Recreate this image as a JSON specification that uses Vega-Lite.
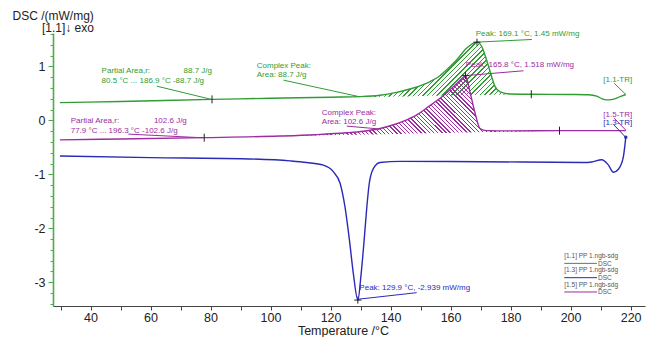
{
  "$schema": "https://vega.github.io/schema/vega-lite/v6.json",
  "width": 592,
  "height": 273,
  "autosize": {"type": "none"},
  "padding": {"left": 53, "top": 33, "right": 5, "bottom": 31},
  "background": "white",
  "config": {"view": {"stroke": null}, "font": "Liberation Sans"},
  "datasets": {
    "curves": [
      {"s": "g", "T": 29.8, "v": 0.33}, {"s": "g", "T": 50, "v": 0.35}, {"s": "g", "T": 80.5, "v": 0.39}, {"s": "g", "T": 100, "v": 0.41}, {"s": "g", "T": 120, "v": 0.43}, {"s": "g", "T": 130, "v": 0.44}, {"s": "g", "T": 136.5, "v": 0.465}, {"s": "g", "T": 142, "v": 0.52}, {"s": "g", "T": 147.6, "v": 0.6}, {"s": "g", "T": 153.2, "v": 0.72}, {"s": "g", "T": 156, "v": 0.81}, {"s": "g", "T": 158.7, "v": 0.94}, {"s": "g", "T": 162, "v": 1.12}, {"s": "g", "T": 165.4, "v": 1.34}, {"s": "g", "T": 167.2, "v": 1.42}, {"s": "g", "T": 168.8, "v": 1.45}, {"s": "g", "T": 170.4, "v": 1.37}, {"s": "g", "T": 172, "v": 1.12}, {"s": "g", "T": 173.7, "v": 0.81}, {"s": "g", "T": 174.8, "v": 0.63}, {"s": "g", "T": 176.5, "v": 0.53}, {"s": "g", "T": 179.8, "v": 0.49}, {"s": "g", "T": 186.9, "v": 0.485}, {"s": "g", "T": 200, "v": 0.48}, {"s": "g", "T": 206, "v": 0.475}, {"s": "g", "T": 208.7, "v": 0.45}, {"s": "g", "T": 210.5, "v": 0.4}, {"s": "g", "T": 212, "v": 0.38}, {"s": "g", "T": 214, "v": 0.39}, {"s": "g", "T": 216.5, "v": 0.44}, {"s": "g", "T": 218.4, "v": 0.48},
      {"s": "p", "T": 29.8, "v": -0.36}, {"s": "p", "T": 50, "v": -0.345}, {"s": "p", "T": 77.9, "v": -0.32}, {"s": "p", "T": 103, "v": -0.29}, {"s": "p", "T": 115, "v": -0.265}, {"s": "p", "T": 125.4, "v": -0.23}, {"s": "p", "T": 131, "v": -0.2}, {"s": "p", "T": 136.5, "v": -0.15}, {"s": "p", "T": 141, "v": -0.08}, {"s": "p", "T": 145.4, "v": 0.01}, {"s": "p", "T": 149, "v": 0.11}, {"s": "p", "T": 152, "v": 0.23}, {"s": "p", "T": 156.5, "v": 0.41}, {"s": "p", "T": 161, "v": 0.63}, {"s": "p", "T": 163.5, "v": 0.76}, {"s": "p", "T": 165, "v": 0.83}, {"s": "p", "T": 166.5, "v": 0.52}, {"s": "p", "T": 168.2, "v": 0.13}, {"s": "p", "T": 169.8, "v": -0.15}, {"s": "p", "T": 172, "v": -0.19}, {"s": "p", "T": 180, "v": -0.195}, {"s": "p", "T": 196.3, "v": -0.19}, {"s": "p", "T": 210, "v": -0.19}, {"s": "p", "T": 218.4, "v": -0.19},
      {"s": "b", "T": 29.8, "v": -0.66}, {"s": "b", "T": 60, "v": -0.69}, {"s": "b", "T": 90, "v": -0.71}, {"s": "b", "T": 106.5, "v": -0.75}, {"s": "b", "T": 112, "v": -0.78}, {"s": "b", "T": 117.6, "v": -0.83}, {"s": "b", "T": 120.9, "v": -0.95}, {"s": "b", "T": 123.2, "v": -1.17}, {"s": "b", "T": 124.8, "v": -1.6}, {"s": "b", "T": 126.3, "v": -2.22}, {"s": "b", "T": 127.6, "v": -2.84}, {"s": "b", "T": 129.1, "v": -3.33}, {"s": "b", "T": 130.2, "v": -2.84}, {"s": "b", "T": 131.2, "v": -2.22}, {"s": "b", "T": 132.1, "v": -1.6}, {"s": "b", "T": 132.9, "v": -1.17}, {"s": "b", "T": 134.3, "v": -0.89}, {"s": "b", "T": 136.5, "v": -0.78}, {"s": "b", "T": 143.2, "v": -0.76}, {"s": "b", "T": 170, "v": -0.765}, {"s": "b", "T": 204.3, "v": -0.78}, {"s": "b", "T": 207, "v": -0.77}, {"s": "b", "T": 210.4, "v": -0.73}, {"s": "b", "T": 212.5, "v": -0.82}, {"s": "b", "T": 214.3, "v": -0.96}, {"s": "b", "T": 216, "v": -0.9}, {"s": "b", "T": 217.6, "v": -0.67}, {"s": "b", "T": 218.4, "v": -0.31}
    ],
    "hatchG": [
      {"T": 80.5, "v": 0.39, "v2": 0.39}, {"T": 100, "v": 0.41, "v2": 0.407}, {"T": 120, "v": 0.43, "v2": 0.425}, {"T": 130, "v": 0.44, "v2": 0.434}, {"T": 136.5, "v": 0.465, "v2": 0.44}, {"T": 142, "v": 0.52, "v2": 0.445}, {"T": 147.6, "v": 0.6, "v2": 0.45}, {"T": 153.2, "v": 0.72, "v2": 0.455}, {"T": 156, "v": 0.81, "v2": 0.458}, {"T": 158.7, "v": 0.94, "v2": 0.46}, {"T": 162, "v": 1.12, "v2": 0.463}, {"T": 165.4, "v": 1.34, "v2": 0.466}, {"T": 167.2, "v": 1.42, "v2": 0.468}, {"T": 168.8, "v": 1.45, "v2": 0.469}, {"T": 170.4, "v": 1.37, "v2": 0.471}, {"T": 172, "v": 1.12, "v2": 0.472}, {"T": 173.7, "v": 0.81, "v2": 0.474}, {"T": 174.8, "v": 0.63, "v2": 0.475}, {"T": 176.5, "v": 0.53, "v2": 0.477}, {"T": 179.8, "v": 0.49, "v2": 0.48}, {"T": 186.9, "v": 0.485, "v2": 0.485}
    ],
    "hatchP": [
      {"T": 77.9, "v": -0.32, "v2": -0.32}, {"T": 103, "v": -0.29, "v2": -0.292}, {"T": 115, "v": -0.265, "v2": -0.279}, {"T": 125.4, "v": -0.23, "v2": -0.268}, {"T": 131, "v": -0.2, "v2": -0.262}, {"T": 136.5, "v": -0.15, "v2": -0.256}, {"T": 141, "v": -0.08, "v2": -0.251}, {"T": 145.4, "v": 0.01, "v2": -0.246}, {"T": 149, "v": 0.11, "v2": -0.242}, {"T": 152, "v": 0.23, "v2": -0.239}, {"T": 156.5, "v": 0.41, "v2": -0.234}, {"T": 161, "v": 0.63, "v2": -0.229}, {"T": 163.5, "v": 0.76, "v2": -0.226}, {"T": 165, "v": 0.83, "v2": -0.224}, {"T": 166.5, "v": 0.52, "v2": -0.223}, {"T": 168.2, "v": 0.13, "v2": -0.221}, {"T": 169.8, "v": -0.15, "v2": -0.219}, {"T": 172, "v": -0.19, "v2": -0.217}, {"T": 180, "v": -0.195, "v2": -0.208}, {"T": 196.3, "v": -0.19, "v2": -0.19}
    ],
    "ticks": [
      {"s": "g", "T": 80.5, "v": 0.39}, {"s": "g", "T": 186.9, "v": 0.485},
      {"s": "p", "T": 77.9, "v": -0.32}, {"s": "p", "T": 196.3, "v": -0.19}
    ],
    "peaks": [
      {"s": "g", "T": 168.8, "v": 1.45}, {"s": "p", "T": 165, "v": 0.83}, {"s": "b", "T": 129.1, "v": -3.33}
    ],
    "dots": [
      {"s": "b", "T": 218.4, "v": -0.31}
    ],
    "leaders": [
      {"s": "g", "T": 62.1, "v": 0.635, "T2": 80.3, "v2": 0.389},
      {"s": "g", "T": 104.3, "v": 0.746, "T2": 129.8, "v2": 0.437},
      {"s": "g", "T": 168.6, "v": 1.45, "T2": 187.1, "v2": 1.5},
      {"s": "g", "T": 214.5, "v": 0.69, "T2": 218.4, "v2": 0.48},
      {"s": "p", "T": 165, "v": 0.83, "T2": 184.3, "v2": 0.92},
      {"s": "p", "T": 125.4, "v": -0.106, "T2": 136.5, "v2": -0.16},
      {"s": "p", "T": 52.6, "v": -0.254, "T2": 77.4, "v2": -0.322},
      {"s": "p", "T": 214.5, "v": 0.043, "T2": 218.4, "v2": -0.18},
      {"s": "b", "T": 129.1, "v": -3.315, "T2": 148.7, "v2": -3.193},
      {"s": "b", "T": 214.5, "v": -0.087, "T2": 218.4, "v2": -0.315}
    ],
    "labelsL": [
      {"s": "g", "T": 43.7, "v": 0.913, "t": "Partial Area,r:"},
      {"s": "g", "T": 43.7, "v": 0.728, "t": "80.5 °C ... 186.9 °C  -88.7 J/g"},
      {"s": "g", "T": 95.4, "v": 1.011, "t": "Complex Peak:"},
      {"s": "g", "T": 95.4, "v": 0.833, "t": "Area:  88.7 J/g"},
      {"s": "g", "T": 168.4, "v": 1.593, "t": "Peak: 169.1 °C, 1.45 mW/mg"},
      {"s": "g", "T": 210.9, "v": 0.746, "t": "[1.1-TR]"},
      {"s": "p", "T": 165.1, "v": 1.024, "t": "Peak: 165.8 °C, 1.518 mW/mg"},
      {"s": "p", "T": 117.1, "v": 0.13, "t": "Complex Peak:"},
      {"s": "p", "T": 117.1, "v": -0.031, "t": "Area:  102.6 J/g"},
      {"s": "p", "T": 33.4, "v": -0.007, "t": "Partial Area,r:"},
      {"s": "p", "T": 33.4, "v": -0.193, "t": "77.9 °C ... 196.3 °C  -102.6 J/g"},
      {"s": "p", "T": 210.9, "v": 0.098, "t": "[1.5-TR]"},
      {"s": "b", "T": 129.6, "v": -3.111, "t": "Peak: 129.9 °C, -2.939 mW/mg"},
      {"s": "b", "T": 210.9, "v": -0.044, "t": "[1.3-TR]"}
    ],
    "labelsR": [
      {"s": "g", "T": 80.5, "v": 0.913, "t": "88.7 J/g"},
      {"s": "p", "T": 72.1, "v": -0.007, "t": "102.6 J/g"}
    ],
    "exo": [
      {"T": 23.8, "v": 1.709, "t": "[1.1]\u2193 exo"}
    ],
    "legText": [
      {"T": 197.9, "v": -2.51, "t": "[1.1]  PP 1.ngb-sdg"},
      {"T": 197.9, "v": -2.772, "t": "[1.3]  PP 1.ngb-sdg"},
      {"T": 197.9, "v": -3.044, "t": "[1.5]  PP 1.ngb-sdg"}
    ],
    "legDSC": [
      {"T": 213.7, "v": -2.667, "t": "DSC"},
      {"T": 213.7, "v": -2.92, "t": "DSC"},
      {"T": 213.7, "v": -3.185, "t": "DSC"}
    ],
    "legLines": [
      {"s": "g", "T": 197.9, "T2": 208.8, "v": -2.65},
      {"s": "b", "T": 197.9, "T2": 208.8, "v": -2.915},
      {"s": "p", "T": 197.9, "T2": 208.8, "v": -3.18}
    ]
  },
  "encoding": {
    "x": {
      "field": "T", "type": "quantitative",
      "scale": {"domain": [27.5, 224.8], "nice": false, "zero": false},
      "axis": {
        "title": "Temperature /°C", "titleX": 290,
        "values": [30, 40, 50, 60, 70, 80, 90, 100, 110, 120, 130, 140, 150, 160, 170, 180, 190, 200, 210, 220],
        "labelExpr": "datum.value % 20 == 0 ? datum.label : ''",
        "grid": false, "tickSize": 4, "labelPadding": 1,
        "labelFontSize": 12.5, "labelColor": "#222", "labelFont": "Liberation Sans",
        "titleFontSize": 12.5, "titleFontWeight": "normal", "titleColor": "#222", "titlePadding": 1, "titleFont": "Liberation Sans",
        "domainColor": "#444", "tickColor": "#444", "domainWidth": 1.2
      }
    },
    "y": {
      "field": "v", "type": "quantitative",
      "scale": {"domain": [-3.44, 1.62], "nice": false, "zero": false},
      "axis": {
        "title": "DSC /(mW/mg)",
        "titleAngle": 0, "titleAlign": "left", "titleBaseline": "alphabetic",
        "titleX": -41, "titleY": -14,
        "titleFontSize": 12, "titleFontWeight": "normal", "titleColor": "#222", "titleFont": "Liberation Sans",
        "values": [-3.4, -3.2, -3, -2.8, -2.6, -2.4, -2.2, -2, -1.8, -1.6, -1.4, -1.2, -1, -0.8, -0.6, -0.4, -0.2, 0, 0.2, 0.4, 0.6, 0.8, 1, 1.2, 1.4, 1.6],
        "labelExpr": "abs(datum.value - round(datum.value)) < 0.001 ? '' + round(datum.value) : ''",
        "tickSize": {"condition": {"test": "abs(datum.value - round(datum.value)) < 0.001", "value": 5}, "value": 3},
        "grid": false, "labelPadding": 3,
        "labelFontSize": 12.5, "labelColor": "#222", "labelFont": "Liberation Sans",
        "domainColor": "#4cad4c", "tickColor": "#4cad4c", "domainWidth": 1.6
      }
    }
  },
  "layer": [
    {
      "data": {"name": "hatchG"},
      "mark": {"type": "area", "interpolate": "monotone", "opacity": 1,
        "fill": {"gradient": "linear", "x1": 0, "y1": 0, "x2": 1.1425, "y2": 0.2046, "stops": [
          {"offset": 0, "color": "transparent"},
          {"offset": 0.45, "color": "transparent"}, {"offset": 0.45, "color": "#2f9c34"}, {"offset": 0.454, "color": "#2f9c34"}, {"offset": 0.454, "color": "transparent"},
          {"offset": 0.4625, "color": "transparent"}, {"offset": 0.4625, "color": "#2f9c34"}, {"offset": 0.4665, "color": "#2f9c34"}, {"offset": 0.4665, "color": "transparent"},
          {"offset": 0.475, "color": "transparent"}, {"offset": 0.475, "color": "#2f9c34"}, {"offset": 0.479, "color": "#2f9c34"}, {"offset": 0.479, "color": "transparent"},
          {"offset": 0.4875, "color": "transparent"}, {"offset": 0.4875, "color": "#2f9c34"}, {"offset": 0.4915, "color": "#2f9c34"}, {"offset": 0.4915, "color": "transparent"},
          {"offset": 0.5, "color": "transparent"}, {"offset": 0.5, "color": "#2f9c34"}, {"offset": 0.504, "color": "#2f9c34"}, {"offset": 0.504, "color": "transparent"},
          {"offset": 0.5125, "color": "transparent"}, {"offset": 0.5125, "color": "#2f9c34"}, {"offset": 0.5165, "color": "#2f9c34"}, {"offset": 0.5165, "color": "transparent"},
          {"offset": 0.525, "color": "transparent"}, {"offset": 0.525, "color": "#2f9c34"}, {"offset": 0.529, "color": "#2f9c34"}, {"offset": 0.529, "color": "transparent"},
          {"offset": 0.5375, "color": "transparent"}, {"offset": 0.5375, "color": "#2f9c34"}, {"offset": 0.5415, "color": "#2f9c34"}, {"offset": 0.5415, "color": "transparent"},
          {"offset": 0.55, "color": "transparent"}, {"offset": 0.55, "color": "#2f9c34"}, {"offset": 0.554, "color": "#2f9c34"}, {"offset": 0.554, "color": "transparent"},
          {"offset": 0.5625, "color": "transparent"}, {"offset": 0.5625, "color": "#2f9c34"}, {"offset": 0.5665, "color": "#2f9c34"}, {"offset": 0.5665, "color": "transparent"},
          {"offset": 0.575, "color": "transparent"}, {"offset": 0.575, "color": "#2f9c34"}, {"offset": 0.579, "color": "#2f9c34"}, {"offset": 0.579, "color": "transparent"},
          {"offset": 0.5875, "color": "transparent"}, {"offset": 0.5875, "color": "#2f9c34"}, {"offset": 0.5915, "color": "#2f9c34"}, {"offset": 0.5915, "color": "transparent"},
          {"offset": 0.6, "color": "transparent"}, {"offset": 0.6, "color": "#2f9c34"}, {"offset": 0.604, "color": "#2f9c34"}, {"offset": 0.604, "color": "transparent"},
          {"offset": 0.6125, "color": "transparent"}, {"offset": 0.6125, "color": "#2f9c34"}, {"offset": 0.6165, "color": "#2f9c34"}, {"offset": 0.6165, "color": "transparent"},
          {"offset": 0.625, "color": "transparent"}, {"offset": 0.625, "color": "#2f9c34"}, {"offset": 0.629, "color": "#2f9c34"}, {"offset": 0.629, "color": "transparent"},
          {"offset": 0.6375, "color": "transparent"}, {"offset": 0.6375, "color": "#2f9c34"}, {"offset": 0.6415, "color": "#2f9c34"}, {"offset": 0.6415, "color": "transparent"},
          {"offset": 0.65, "color": "transparent"}, {"offset": 0.65, "color": "#2f9c34"}, {"offset": 0.654, "color": "#2f9c34"}, {"offset": 0.654, "color": "transparent"},
          {"offset": 0.6625, "color": "transparent"}, {"offset": 0.6625, "color": "#2f9c34"}, {"offset": 0.6665, "color": "#2f9c34"}, {"offset": 0.6665, "color": "transparent"},
          {"offset": 0.675, "color": "transparent"}, {"offset": 0.675, "color": "#2f9c34"}, {"offset": 0.679, "color": "#2f9c34"}, {"offset": 0.679, "color": "transparent"},
          {"offset": 0.6875, "color": "transparent"}, {"offset": 0.6875, "color": "#2f9c34"}, {"offset": 0.6915, "color": "#2f9c34"}, {"offset": 0.6915, "color": "transparent"},
          {"offset": 0.7, "color": "transparent"}, {"offset": 0.7, "color": "#2f9c34"}, {"offset": 0.704, "color": "#2f9c34"}, {"offset": 0.704, "color": "transparent"},
          {"offset": 0.7125, "color": "transparent"}, {"offset": 0.7125, "color": "#2f9c34"}, {"offset": 0.7165, "color": "#2f9c34"}, {"offset": 0.7165, "color": "transparent"},
          {"offset": 0.725, "color": "transparent"}, {"offset": 0.725, "color": "#2f9c34"}, {"offset": 0.729, "color": "#2f9c34"}, {"offset": 0.729, "color": "transparent"},
          {"offset": 0.7375, "color": "transparent"}, {"offset": 0.7375, "color": "#2f9c34"}, {"offset": 0.7415, "color": "#2f9c34"}, {"offset": 0.7415, "color": "transparent"},
          {"offset": 0.75, "color": "transparent"}, {"offset": 0.75, "color": "#2f9c34"}, {"offset": 0.754, "color": "#2f9c34"}, {"offset": 0.754, "color": "transparent"},
          {"offset": 0.7625, "color": "transparent"}, {"offset": 0.7625, "color": "#2f9c34"}, {"offset": 0.7665, "color": "#2f9c34"}, {"offset": 0.7665, "color": "transparent"},
          {"offset": 0.775, "color": "transparent"}, {"offset": 0.775, "color": "#2f9c34"}, {"offset": 0.779, "color": "#2f9c34"}, {"offset": 0.779, "color": "transparent"},
          {"offset": 0.7875, "color": "transparent"}, {"offset": 0.7875, "color": "#2f9c34"}, {"offset": 0.7915, "color": "#2f9c34"}, {"offset": 0.7915, "color": "transparent"},
          {"offset": 0.8, "color": "transparent"}, {"offset": 0.8, "color": "#2f9c34"}, {"offset": 0.804, "color": "#2f9c34"}, {"offset": 0.804, "color": "transparent"},
          {"offset": 0.8125, "color": "transparent"}, {"offset": 0.8125, "color": "#2f9c34"}, {"offset": 0.8165, "color": "#2f9c34"}, {"offset": 0.8165, "color": "transparent"},
          {"offset": 0.825, "color": "transparent"}, {"offset": 0.825, "color": "#2f9c34"}, {"offset": 0.829, "color": "#2f9c34"}, {"offset": 0.829, "color": "transparent"},
          {"offset": 0.8375, "color": "transparent"}, {"offset": 0.8375, "color": "#2f9c34"}, {"offset": 0.8415, "color": "#2f9c34"}, {"offset": 0.8415, "color": "transparent"},
          {"offset": 0.85, "color": "transparent"}, {"offset": 0.85, "color": "#2f9c34"}, {"offset": 0.854, "color": "#2f9c34"}, {"offset": 0.854, "color": "transparent"},
          {"offset": 0.8625, "color": "transparent"}, {"offset": 0.8625, "color": "#2f9c34"}, {"offset": 0.8665, "color": "#2f9c34"}, {"offset": 0.8665, "color": "transparent"},
          {"offset": 0.875, "color": "transparent"}, {"offset": 0.875, "color": "#2f9c34"}, {"offset": 0.879, "color": "#2f9c34"}, {"offset": 0.879, "color": "transparent"},
          {"offset": 0.8875, "color": "transparent"}, {"offset": 0.8875, "color": "#2f9c34"}, {"offset": 0.8915, "color": "#2f9c34"}, {"offset": 0.8915, "color": "transparent"},
          {"offset": 0.9, "color": "transparent"}, {"offset": 0.9, "color": "#2f9c34"}, {"offset": 0.904, "color": "#2f9c34"}, {"offset": 0.904, "color": "transparent"},
          {"offset": 0.9125, "color": "transparent"}, {"offset": 0.9125, "color": "#2f9c34"}, {"offset": 0.9165, "color": "#2f9c34"}, {"offset": 0.9165, "color": "transparent"},
          {"offset": 0.925, "color": "transparent"}, {"offset": 0.925, "color": "#2f9c34"}, {"offset": 0.929, "color": "#2f9c34"}, {"offset": 0.929, "color": "transparent"},
          {"offset": 0.9375, "color": "transparent"}, {"offset": 0.9375, "color": "#2f9c34"}, {"offset": 0.9415, "color": "#2f9c34"}, {"offset": 0.9415, "color": "transparent"},
          {"offset": 0.95, "color": "transparent"}, {"offset": 0.95, "color": "#2f9c34"}, {"offset": 0.954, "color": "#2f9c34"}, {"offset": 0.954, "color": "transparent"},
          {"offset": 0.9625, "color": "transparent"}, {"offset": 0.9625, "color": "#2f9c34"}, {"offset": 0.9665, "color": "#2f9c34"}, {"offset": 0.9665, "color": "transparent"},
          {"offset": 0.975, "color": "transparent"}, {"offset": 0.975, "color": "#2f9c34"}, {"offset": 0.979, "color": "#2f9c34"}, {"offset": 0.979, "color": "transparent"},
          {"offset": 0.9875, "color": "transparent"}, {"offset": 0.9875, "color": "#2f9c34"}, {"offset": 0.9915, "color": "#2f9c34"}, {"offset": 0.9915, "color": "transparent"},
          {"offset": 1, "color": "transparent"}
        ]}},
      "encoding": {"y2": {"field": "v2"}}
    },
    {
      "data": {"name": "hatchP"},
      "mark": {"type": "area", "interpolate": "monotone", "opacity": 1,
        "fill": {"gradient": "linear", "x1": 0, "y1": 1, "x2": 1.14, "y2": 0.8007, "stops": [
          {"offset": 0, "color": "transparent"},
          {"offset": 0.2, "color": "transparent"}, {"offset": 0.2, "color": "#9c2c9f"}, {"offset": 0.2033, "color": "#9c2c9f"}, {"offset": 0.2033, "color": "transparent"},
          {"offset": 0.21, "color": "transparent"}, {"offset": 0.21, "color": "#9c2c9f"}, {"offset": 0.2133, "color": "#9c2c9f"}, {"offset": 0.2133, "color": "transparent"},
          {"offset": 0.22, "color": "transparent"}, {"offset": 0.22, "color": "#9c2c9f"}, {"offset": 0.2233, "color": "#9c2c9f"}, {"offset": 0.2233, "color": "transparent"},
          {"offset": 0.23, "color": "transparent"}, {"offset": 0.23, "color": "#9c2c9f"}, {"offset": 0.2333, "color": "#9c2c9f"}, {"offset": 0.2333, "color": "transparent"},
          {"offset": 0.24, "color": "transparent"}, {"offset": 0.24, "color": "#9c2c9f"}, {"offset": 0.2433, "color": "#9c2c9f"}, {"offset": 0.2433, "color": "transparent"},
          {"offset": 0.25, "color": "transparent"}, {"offset": 0.25, "color": "#9c2c9f"}, {"offset": 0.2533, "color": "#9c2c9f"}, {"offset": 0.2533, "color": "transparent"},
          {"offset": 0.26, "color": "transparent"}, {"offset": 0.26, "color": "#9c2c9f"}, {"offset": 0.2633, "color": "#9c2c9f"}, {"offset": 0.2633, "color": "transparent"},
          {"offset": 0.27, "color": "transparent"}, {"offset": 0.27, "color": "#9c2c9f"}, {"offset": 0.2733, "color": "#9c2c9f"}, {"offset": 0.2733, "color": "transparent"},
          {"offset": 0.28, "color": "transparent"}, {"offset": 0.28, "color": "#9c2c9f"}, {"offset": 0.2833, "color": "#9c2c9f"}, {"offset": 0.2833, "color": "transparent"},
          {"offset": 0.29, "color": "transparent"}, {"offset": 0.29, "color": "#9c2c9f"}, {"offset": 0.2933, "color": "#9c2c9f"}, {"offset": 0.2933, "color": "transparent"},
          {"offset": 0.3, "color": "transparent"}, {"offset": 0.3, "color": "#9c2c9f"}, {"offset": 0.3033, "color": "#9c2c9f"}, {"offset": 0.3033, "color": "transparent"},
          {"offset": 0.31, "color": "transparent"}, {"offset": 0.31, "color": "#9c2c9f"}, {"offset": 0.3133, "color": "#9c2c9f"}, {"offset": 0.3133, "color": "transparent"},
          {"offset": 0.32, "color": "transparent"}, {"offset": 0.32, "color": "#9c2c9f"}, {"offset": 0.3233, "color": "#9c2c9f"}, {"offset": 0.3233, "color": "transparent"},
          {"offset": 0.33, "color": "transparent"}, {"offset": 0.33, "color": "#9c2c9f"}, {"offset": 0.3333, "color": "#9c2c9f"}, {"offset": 0.3333, "color": "transparent"},
          {"offset": 0.34, "color": "transparent"}, {"offset": 0.34, "color": "#9c2c9f"}, {"offset": 0.3433, "color": "#9c2c9f"}, {"offset": 0.3433, "color": "transparent"},
          {"offset": 0.35, "color": "transparent"}, {"offset": 0.35, "color": "#9c2c9f"}, {"offset": 0.3533, "color": "#9c2c9f"}, {"offset": 0.3533, "color": "transparent"},
          {"offset": 0.36, "color": "transparent"}, {"offset": 0.36, "color": "#9c2c9f"}, {"offset": 0.3633, "color": "#9c2c9f"}, {"offset": 0.3633, "color": "transparent"},
          {"offset": 0.37, "color": "transparent"}, {"offset": 0.37, "color": "#9c2c9f"}, {"offset": 0.3733, "color": "#9c2c9f"}, {"offset": 0.3733, "color": "transparent"},
          {"offset": 0.38, "color": "transparent"}, {"offset": 0.38, "color": "#9c2c9f"}, {"offset": 0.3833, "color": "#9c2c9f"}, {"offset": 0.3833, "color": "transparent"},
          {"offset": 0.39, "color": "transparent"}, {"offset": 0.39, "color": "#9c2c9f"}, {"offset": 0.3933, "color": "#9c2c9f"}, {"offset": 0.3933, "color": "transparent"},
          {"offset": 0.4, "color": "transparent"}, {"offset": 0.4, "color": "#9c2c9f"}, {"offset": 0.4033, "color": "#9c2c9f"}, {"offset": 0.4033, "color": "transparent"},
          {"offset": 0.41, "color": "transparent"}, {"offset": 0.41, "color": "#9c2c9f"}, {"offset": 0.4133, "color": "#9c2c9f"}, {"offset": 0.4133, "color": "transparent"},
          {"offset": 0.42, "color": "transparent"}, {"offset": 0.42, "color": "#9c2c9f"}, {"offset": 0.4233, "color": "#9c2c9f"}, {"offset": 0.4233, "color": "transparent"},
          {"offset": 0.43, "color": "transparent"}, {"offset": 0.43, "color": "#9c2c9f"}, {"offset": 0.4333, "color": "#9c2c9f"}, {"offset": 0.4333, "color": "transparent"},
          {"offset": 0.44, "color": "transparent"}, {"offset": 0.44, "color": "#9c2c9f"}, {"offset": 0.4433, "color": "#9c2c9f"}, {"offset": 0.4433, "color": "transparent"},
          {"offset": 0.45, "color": "transparent"}, {"offset": 0.45, "color": "#9c2c9f"}, {"offset": 0.4533, "color": "#9c2c9f"}, {"offset": 0.4533, "color": "transparent"},
          {"offset": 0.46, "color": "transparent"}, {"offset": 0.46, "color": "#9c2c9f"}, {"offset": 0.4633, "color": "#9c2c9f"}, {"offset": 0.4633, "color": "transparent"},
          {"offset": 0.47, "color": "transparent"}, {"offset": 0.47, "color": "#9c2c9f"}, {"offset": 0.4733, "color": "#9c2c9f"}, {"offset": 0.4733, "color": "transparent"},
          {"offset": 0.48, "color": "transparent"}, {"offset": 0.48, "color": "#9c2c9f"}, {"offset": 0.4833, "color": "#9c2c9f"}, {"offset": 0.4833, "color": "transparent"},
          {"offset": 0.49, "color": "transparent"}, {"offset": 0.49, "color": "#9c2c9f"}, {"offset": 0.4933, "color": "#9c2c9f"}, {"offset": 0.4933, "color": "transparent"},
          {"offset": 0.5, "color": "transparent"}, {"offset": 0.5, "color": "#9c2c9f"}, {"offset": 0.5033, "color": "#9c2c9f"}, {"offset": 0.5033, "color": "transparent"},
          {"offset": 0.51, "color": "transparent"}, {"offset": 0.51, "color": "#9c2c9f"}, {"offset": 0.5133, "color": "#9c2c9f"}, {"offset": 0.5133, "color": "transparent"},
          {"offset": 0.52, "color": "transparent"}, {"offset": 0.52, "color": "#9c2c9f"}, {"offset": 0.5233, "color": "#9c2c9f"}, {"offset": 0.5233, "color": "transparent"},
          {"offset": 0.53, "color": "transparent"}, {"offset": 0.53, "color": "#9c2c9f"}, {"offset": 0.5333, "color": "#9c2c9f"}, {"offset": 0.5333, "color": "transparent"},
          {"offset": 0.54, "color": "transparent"}, {"offset": 0.54, "color": "#9c2c9f"}, {"offset": 0.5433, "color": "#9c2c9f"}, {"offset": 0.5433, "color": "transparent"},
          {"offset": 0.55, "color": "transparent"}, {"offset": 0.55, "color": "#9c2c9f"}, {"offset": 0.5533, "color": "#9c2c9f"}, {"offset": 0.5533, "color": "transparent"},
          {"offset": 0.56, "color": "transparent"}, {"offset": 0.56, "color": "#9c2c9f"}, {"offset": 0.5633, "color": "#9c2c9f"}, {"offset": 0.5633, "color": "transparent"},
          {"offset": 0.57, "color": "transparent"}, {"offset": 0.57, "color": "#9c2c9f"}, {"offset": 0.5733, "color": "#9c2c9f"}, {"offset": 0.5733, "color": "transparent"},
          {"offset": 0.58, "color": "transparent"}, {"offset": 0.58, "color": "#9c2c9f"}, {"offset": 0.5833, "color": "#9c2c9f"}, {"offset": 0.5833, "color": "transparent"},
          {"offset": 0.59, "color": "transparent"}, {"offset": 0.59, "color": "#9c2c9f"}, {"offset": 0.5933, "color": "#9c2c9f"}, {"offset": 0.5933, "color": "transparent"},
          {"offset": 0.6, "color": "transparent"}, {"offset": 0.6, "color": "#9c2c9f"}, {"offset": 0.6033, "color": "#9c2c9f"}, {"offset": 0.6033, "color": "transparent"},
          {"offset": 0.61, "color": "transparent"}, {"offset": 0.61, "color": "#9c2c9f"}, {"offset": 0.6133, "color": "#9c2c9f"}, {"offset": 0.6133, "color": "transparent"},
          {"offset": 0.62, "color": "transparent"}, {"offset": 0.62, "color": "#9c2c9f"}, {"offset": 0.6233, "color": "#9c2c9f"}, {"offset": 0.6233, "color": "transparent"},
          {"offset": 0.63, "color": "transparent"}, {"offset": 0.63, "color": "#9c2c9f"}, {"offset": 0.6333, "color": "#9c2c9f"}, {"offset": 0.6333, "color": "transparent"},
          {"offset": 0.64, "color": "transparent"}, {"offset": 0.64, "color": "#9c2c9f"}, {"offset": 0.6433, "color": "#9c2c9f"}, {"offset": 0.6433, "color": "transparent"},
          {"offset": 0.65, "color": "transparent"}, {"offset": 0.65, "color": "#9c2c9f"}, {"offset": 0.6533, "color": "#9c2c9f"}, {"offset": 0.6533, "color": "transparent"},
          {"offset": 0.66, "color": "transparent"}, {"offset": 0.66, "color": "#9c2c9f"}, {"offset": 0.6633, "color": "#9c2c9f"}, {"offset": 0.6633, "color": "transparent"},
          {"offset": 0.67, "color": "transparent"}, {"offset": 0.67, "color": "#9c2c9f"}, {"offset": 0.6733, "color": "#9c2c9f"}, {"offset": 0.6733, "color": "transparent"},
          {"offset": 0.68, "color": "transparent"}, {"offset": 0.68, "color": "#9c2c9f"}, {"offset": 0.6833, "color": "#9c2c9f"}, {"offset": 0.6833, "color": "transparent"},
          {"offset": 0.69, "color": "transparent"}, {"offset": 0.69, "color": "#9c2c9f"}, {"offset": 0.6933, "color": "#9c2c9f"}, {"offset": 0.6933, "color": "transparent"},
          {"offset": 0.7, "color": "transparent"}, {"offset": 0.7, "color": "#9c2c9f"}, {"offset": 0.7033, "color": "#9c2c9f"}, {"offset": 0.7033, "color": "transparent"},
          {"offset": 0.71, "color": "transparent"}, {"offset": 0.71, "color": "#9c2c9f"}, {"offset": 0.7133, "color": "#9c2c9f"}, {"offset": 0.7133, "color": "transparent"},
          {"offset": 0.72, "color": "transparent"}, {"offset": 0.72, "color": "#9c2c9f"}, {"offset": 0.7233, "color": "#9c2c9f"}, {"offset": 0.7233, "color": "transparent"},
          {"offset": 0.73, "color": "transparent"}, {"offset": 0.73, "color": "#9c2c9f"}, {"offset": 0.7333, "color": "#9c2c9f"}, {"offset": 0.7333, "color": "transparent"},
          {"offset": 0.74, "color": "transparent"}, {"offset": 0.74, "color": "#9c2c9f"}, {"offset": 0.7433, "color": "#9c2c9f"}, {"offset": 0.7433, "color": "transparent"},
          {"offset": 0.75, "color": "transparent"}, {"offset": 0.75, "color": "#9c2c9f"}, {"offset": 0.7533, "color": "#9c2c9f"}, {"offset": 0.7533, "color": "transparent"},
          {"offset": 0.76, "color": "transparent"}, {"offset": 0.76, "color": "#9c2c9f"}, {"offset": 0.7633, "color": "#9c2c9f"}, {"offset": 0.7633, "color": "transparent"},
          {"offset": 0.77, "color": "transparent"}, {"offset": 0.77, "color": "#9c2c9f"}, {"offset": 0.7733, "color": "#9c2c9f"}, {"offset": 0.7733, "color": "transparent"},
          {"offset": 0.78, "color": "transparent"}, {"offset": 0.78, "color": "#9c2c9f"}, {"offset": 0.7833, "color": "#9c2c9f"}, {"offset": 0.7833, "color": "transparent"},
          {"offset": 0.79, "color": "transparent"}, {"offset": 0.79, "color": "#9c2c9f"}, {"offset": 0.7933, "color": "#9c2c9f"}, {"offset": 0.7933, "color": "transparent"},
          {"offset": 0.8, "color": "transparent"}, {"offset": 0.8, "color": "#9c2c9f"}, {"offset": 0.8033, "color": "#9c2c9f"}, {"offset": 0.8033, "color": "transparent"},
          {"offset": 1, "color": "transparent"}
        ]}},
      "encoding": {"y2": {"field": "v2"}}
    },
    {
      "data": {"name": "curves"},
      "mark": {"type": "line", "interpolate": "monotone", "strokeWidth": 1.4},
      "encoding": {
        "detail": {"field": "s"},
        "color": {"field": "s", "type": "nominal", "legend": null,
          "scale": {"domain": ["g", "p", "b"], "range": ["#2f9c34", "#9c2c9f", "#2a2ab8"]}}
      }
    },
    {
      "data": {"name": "leaders"},
      "mark": {"type": "rule", "strokeWidth": 1},
      "encoding": {"x2": {"field": "T2"}, "y2": {"field": "v2"}, "color": {"field": "s", "type": "nominal", "legend": null}}
    },
    {
      "data": {"name": "ticks"},
      "mark": {"type": "point", "shape": "M0,-1V1", "size": 64, "strokeWidth": 1, "filled": false, "opacity": 1},
      "encoding": {"color": {"value": "#222"}}
    },
    {
      "data": {"name": "peaks"},
      "mark": {"type": "point", "shape": "M0,-1V1M-1,0H1", "size": 50, "strokeWidth": 1, "filled": false, "opacity": 1},
      "encoding": {"color": {"value": "#222"}}
    },
    {
      "data": {"name": "dots"},
      "mark": {"type": "point", "shape": "circle", "size": 12, "filled": true, "opacity": 1},
      "encoding": {"color": {"value": "#2a2ab8"}}
    },
    {
      "data": {"name": "labelsL"},
      "mark": {"type": "text", "align": "left", "baseline": "middle", "fontSize": 8, "font": "Liberation Sans"},
      "encoding": {"text": {"field": "t"}, "color": {"field": "s", "type": "nominal", "legend": null}}
    },
    {
      "data": {"name": "labelsR"},
      "mark": {"type": "text", "align": "right", "baseline": "middle", "fontSize": 8, "font": "Liberation Sans"},
      "encoding": {"text": {"field": "t"}, "color": {"field": "s", "type": "nominal", "legend": null}}
    },
    {
      "data": {"name": "exo"},
      "mark": {"type": "text", "align": "left", "baseline": "middle", "fontSize": 12, "font": "Liberation Sans", "color": "#222"},
      "encoding": {"text": {"field": "t"}}
    },
    {
      "data": {"name": "legText"},
      "mark": {"type": "text", "align": "left", "baseline": "middle", "fontSize": 6.5, "font": "Liberation Sans", "color": "#555"},
      "encoding": {"text": {"field": "t"}}
    },
    {
      "data": {"name": "legDSC"},
      "mark": {"type": "text", "align": "right", "baseline": "middle", "fontSize": 6.5, "font": "Liberation Sans", "color": "#555"},
      "encoding": {"text": {"field": "t"}}
    },
    {
      "data": {"name": "legLines"},
      "mark": {"type": "rule", "strokeWidth": 1},
      "encoding": {"x2": {"field": "T2"}, "color": {"field": "s", "type": "nominal", "legend": null}}
    }
  ]
}
